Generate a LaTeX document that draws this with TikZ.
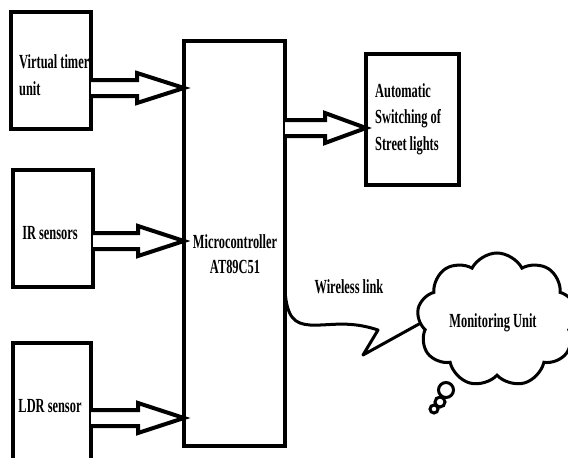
\documentclass[tikz,border=0pt]{standalone}
\usepackage{fontspec}
\setmainfont{Liberation Serif}[FakeStretch=0.62]
\usetikzlibrary{shapes.symbols,calc}
\tikzset{
  blk/.style={draw, line width=4pt, minimum width=#1, inner sep=0pt, outer sep=0pt, fill=white},
  lbl/.style={font=\fontsize{20}{25}\selectfont\bfseries, inner sep=0pt, align=left},
  harr/.style={draw, line width=4pt, line join=miter, fill=white},
  wire/.style={draw, line width=3pt, line join=round, line cap=round},
}
\newcommand\harrow[4]{%
  \draw[harr] (#1.east |- 0,#3-8) -- (#4,#3-8) -- (#4,#3-15) -- (#2.west |- 0,#3)
    -- (#4,#3+15) -- (#4,#3+8) -- (#1.east |- 0,#3+8);}
\begin{document}
\begin{tikzpicture}[x=1pt,y=-1pt]
\useasboundingbox (0,0) rectangle (568,458);
\clip (0,0) rectangle (568,458);
% boxes
\node[blk=80pt, minimum height=117pt] (vt) at (51,70.5) {};
\node[blk=80pt, minimum height=117pt] (ir) at (53,228.5) {};
\node[blk=78pt, minimum height=117pt] (ldr) at (52,401.5) {};
\node[blk=101pt, minimum height=405pt] (mc) at (234.5,243.5) {};
\node[blk=93pt, minimum height=131pt] (sw) at (412.5,119.5) {};
% texts (base anchor = baseline of last line)
\node[lbl, anchor=base west] (vtt) at (19,95) {Virtual timer\\[2pt]unit};
\node[lbl, anchor=base] (irt) at (50,239) {IR sensors};
\node[lbl, anchor=base] (ldrt) at (50,412) {LDR sensor};
\node[lbl, anchor=base, align=center] (mct) at (235,273) {Microcontroller\\AT89C51};
\node[lbl, anchor=base west] (swt) at (375,150) {Automatic\\[1.5pt]Switching of\\[1.5pt]Street lights};
\node[lbl, anchor=base] (wl) at (349,293) {Wireless link};
% arrows
\harrow{vt}{mc}{88}{137}
\harrow{ir}{mc}{241}{138}
\harrow{ldr}{mc}{418}{138}
\harrow{mc}{sw}{128}{325}
% cloud
\node[cloud, draw, line width=3pt, cloud puffs=9, cloud puff arc=125, aspect=1.2,
      minimum width=160pt, minimum height=134pt, inner sep=0pt, fill=white] (mu) at (497,320) {};
\node[lbl, anchor=base] (mut) at (493,327) {Monitoring Unit};
\node[circle, draw, line width=3pt, minimum size=15pt, inner sep=0pt, fill=white] (b1) at (446,390) {};
\node[circle, draw, line width=3pt, minimum size=10pt, inner sep=0pt, fill=white] (b2) at (440,402) {};
\node[circle, draw, line width=3pt, minimum size=8pt, inner sep=0pt, fill=white] (b3) at (434,409) {};
% wireless link
\coordinate (wend) at (419,324);
\draw[wire] (mc.east |- 0,291) .. controls (287,318) and (295,324) .. (310,325)
  .. controls (330,326) and (348,320) .. (378,330) -- (363,355) -- (wend);
\end{tikzpicture}
\end{document}
